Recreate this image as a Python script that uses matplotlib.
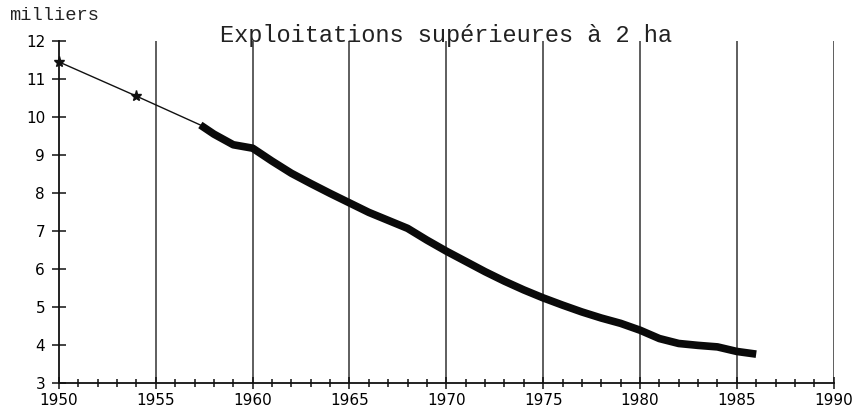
"""Exploitations supérieures à 2 ha, 1950-1986."""

import matplotlib.pyplot as plt

# census points (thin line with stars)
census_years = [1950, 1954, 1957.3]
census_values = [11.45, 10.55, 9.79]
census_marked = [0, 1]

# annual series (thick line)
years = [1957.3, 1958, 1959, 1960, 1961, 1962, 1963, 1964, 1965, 1966, 1967, 1968,
         1969, 1970, 1971, 1972, 1973, 1974, 1975, 1976, 1977, 1978, 1979, 1980,
         1981, 1982, 1983, 1984, 1985, 1986]
values = [9.79, 9.55, 9.27, 9.18, 8.84, 8.52, 8.25, 7.99, 7.74, 7.49, 7.28, 7.07,
          6.76, 6.47, 6.2, 5.93, 5.68, 5.45, 5.24, 5.05, 4.87, 4.71, 4.57, 4.39,
          4.17, 4.04, 3.99, 3.95, 3.83, 3.76]

x_labels = [1950, 1955, 1960, 1965, 1970, 1975, 1980, 1985, 1990]
y_labels = [3, 4, 5, 6, 7, 8, 9, 10, 11, 12]

fig = plt.figure(figsize=(8.56, 4.12), dpi=100)
ax = fig.add_axes([0.0689, 0.0704, 0.905, 0.830])

for x in x_labels[1:]:
    ax.axvline(x, color="#333333", linewidth=1.1, zorder=1)

ax.plot(census_years, census_values, color="#111111", linewidth=1.0,
        marker="*", markersize=8, markevery=census_marked, zorder=3, clip_on=False)
ax.plot(years, values, color="#0a0a0a", linewidth=5.5, solid_capstyle="butt",
        solid_joinstyle="round", zorder=3)

ax.set_xlim(1950, 1990)
ax.set_ylim(3, 12)
ax.set_xticks(x_labels)
ax.set_xticks(range(1950, 1991), minor=True)
ax.set_yticks(y_labels)
ax.tick_params(axis="both", which="both", direction="inout", color="#111111", width=1.1)
ax.tick_params(axis="x", which="major", length=8, labelsize=11, pad=3)
ax.tick_params(axis="x", which="minor", length=6)
ax.tick_params(axis="y", which="major", length=10, labelsize=11, pad=5)
for s in ["top", "right"]:
    ax.spines[s].set_visible(False)
for s in ["left", "bottom"]:
    ax.spines[s].set_linewidth(1.3)
    ax.spines[s].set_color("#111111")

fig.text(0.011, 0.962, "milliers", family="Liberation Mono", fontsize=13.5,
         va="center", ha="left", color="#222222")
fig.text(0.521, 0.915, "Exploitations supérieures à 2 ha", family="Liberation Mono",
         fontsize=17, va="center", ha="center", color="#222222")

plt.savefig("out.png", dpi=100)
